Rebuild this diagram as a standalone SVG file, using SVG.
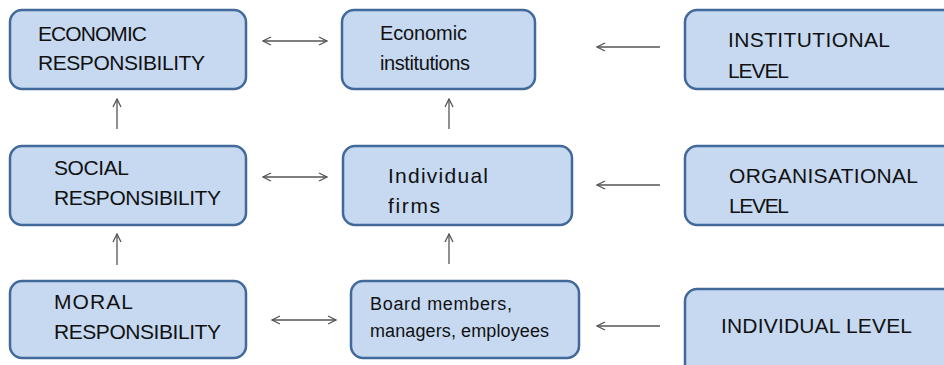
<svg xmlns="http://www.w3.org/2000/svg" width="944" height="365" viewBox="0 0 944 365">
  <style>
    .box { fill: #c6d9f1; stroke: #41699a; stroke-width: 2.5; }
    .lbl { font-family: "Liberation Sans", Arial, sans-serif; font-size: 21px; fill: #111; }
    .lc { font-size: 20px; }
    .sm { font-size: 18px; }
    .con { stroke: #555; stroke-width: 1.3; fill: none; }
  </style>
  <defs>
    <marker id="head" viewBox="0 0 10 10" refX="9" refY="5" markerUnits="userSpaceOnUse" markerWidth="10" markerHeight="10" orient="auto-start-reverse">
      <polyline points="1,1 9,5 1,9" fill="none" stroke="#555" stroke-width="1.3"/>
    </marker>
  </defs>
  <rect width="944" height="365" fill="#ffffff"/>

  <g id="economic-responsibility">
    <rect class="box" x="10" y="10" width="236" height="79" rx="12"/>
    <text class="lbl" x="38" y="41" textLength="109">ECONOMIC</text>
    <text class="lbl" x="38" y="70" textLength="167">RESPONSIBILITY</text>
  </g>
  <g id="economic-institutions">
    <rect class="box" x="342" y="10" width="193" height="79" rx="12"/>
    <text class="lbl lc" x="380" y="40" textLength="87">Economic</text>
    <text class="lbl lc" x="380" y="70" textLength="90">institutions</text>
  </g>
  <g id="institutional-level">
    <rect class="box" x="685" y="10" width="275" height="79" rx="12"/>
    <text class="lbl" x="728" y="47" textLength="162">INSTITUTIONAL</text>
    <text class="lbl" x="728" y="78" textLength="61">LEVEL</text>
  </g>

  <g id="social-responsibility">
    <rect class="box" x="10" y="146" width="236" height="79" rx="12"/>
    <text class="lbl" x="54" y="175" textLength="75">SOCIAL</text>
    <text class="lbl" x="54" y="205" textLength="167">RESPONSIBILITY</text>
  </g>
  <g id="individual-firms">
    <rect class="box" x="343" y="146" width="229" height="79" rx="12"/>
    <text class="lbl" x="388" y="183" textLength="100">Individual</text>
    <text class="lbl" x="388" y="213" textLength="52">firms</text>
  </g>
  <g id="organisational-level">
    <rect class="box" x="685" y="146" width="275" height="79" rx="12"/>
    <text class="lbl" x="729" y="183" textLength="189">ORGANISATIONAL</text>
    <text class="lbl" x="729" y="213" textLength="60">LEVEL</text>
  </g>

  <g id="moral-responsibility">
    <rect class="box" x="10" y="281" width="236" height="77" rx="12"/>
    <text class="lbl" x="54" y="309" textLength="79">MORAL</text>
    <text class="lbl" x="54" y="339" textLength="167">RESPONSIBILITY</text>
  </g>
  <g id="board-members">
    <rect class="box" x="351" y="281" width="228" height="77" rx="12"/>
    <text class="lbl sm" x="370" y="310" textLength="142">Board members,</text>
    <text class="lbl sm" x="370" y="337" textLength="179">managers, employees</text>
  </g>
  <g id="individual-level">
    <rect class="box" x="685" y="289" width="275" height="90" rx="12"/>
    <text class="lbl" x="721" y="333" textLength="191">INDIVIDUAL LEVEL</text>
  </g>

  <g id="connectors">
    <line class="con" x1="263" y1="41" x2="327" y2="41" marker-start="url(#head)" marker-end="url(#head)"/>
    <line class="con" x1="263" y1="177" x2="327" y2="177" marker-start="url(#head)" marker-end="url(#head)"/>
    <line class="con" x1="272" y1="320" x2="336" y2="320" marker-start="url(#head)" marker-end="url(#head)"/>

    <line class="con" x1="660" y1="47" x2="597" y2="47" marker-end="url(#head)"/>
    <line class="con" x1="660" y1="185" x2="597" y2="185" marker-end="url(#head)"/>
    <line class="con" x1="660" y1="326" x2="597" y2="326" marker-end="url(#head)"/>

    <line class="con" x1="117" y1="129" x2="117" y2="99" marker-end="url(#head)"/>
    <line class="con" x1="117" y1="265" x2="117" y2="234" marker-end="url(#head)"/>
    <line class="con" x1="449" y1="129" x2="449" y2="99" marker-end="url(#head)"/>
    <line class="con" x1="449" y1="264" x2="449" y2="234" marker-end="url(#head)"/>
  </g>
</svg>
